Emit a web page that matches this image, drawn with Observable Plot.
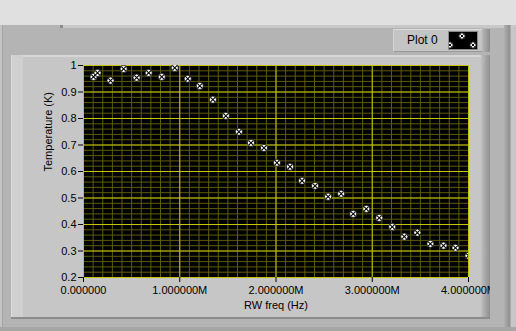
<!DOCTYPE html>
<html>
<head>
<meta charset="utf-8">
<script src="https://cdn.jsdelivr.net/npm/d3@7"></script>
<script src="https://cdn.jsdelivr.net/npm/@observablehq/plot@0.6"></script>
<style>
  html, body { margin:0; padding:0; }
  body { width:516px; height:331px; background:#e0e0e0; position:relative; overflow:hidden;
         font-family:"Liberation Sans", Arial, sans-serif; }
  .abs { position:absolute; box-sizing:border-box; }
  #outer { left:0; top:25px; width:516px; height:306px; background:#b4b4b4; }
  #outerTop { left:63px; top:25px; width:453px; height:3px; background:#c8c8c8; }
  #outerNotch { left:60px; top:25px; width:3px; height:3px; background:#8c8c8c; }
  #outerLeft { left:0; top:25px; width:3px; height:306px; background:#c4c4c4; border-right:1px solid #a4a4a4; }
  #outerRight { left:504px; top:25px; width:12px; height:306px;
      background:linear-gradient(to right,#b0b0b0 0px,#8e8e8e 6px,#c8c8c8 7px,#c4c4c4 12px); }
  #outerBottom { left:0; top:327px; width:516px; height:4px; background:#a6a6a6; }
  #inner { left:11px; top:55px; width:479px; height:264px; background:#c6c6c6;
      border-top:2px solid #d6d6d6; border-bottom:2px solid #8c8c8c; }
  #innerLeft { left:11px; top:55px; width:12px; height:262px; background:#d0d0d0; border-left:1px solid #dcdcdc; }
  #innerRight { left:481px; top:55px; width:9px; height:262px;
      background:linear-gradient(to right,#c0c0c0,#8e8e8e); }
  #legend { left:393px; top:29px; width:97px; height:23px; background:#c4c4c4;
      border-top:1px solid #dadada; border-left:1px solid #d4d4d4; border-bottom:1px solid #9a9a9a; }
  #legendShade { left:482px; top:29px; width:8px; height:23px; background:linear-gradient(to right,#b8b8b8,#8c8c8c); }
  #legendText { left:407px; top:32px; font-size:12px; line-height:16px; color:#000; }
  #swatch { left:448px; top:31px; width:30px; height:19px; background:#000; border:1px solid #8a8a8a; }
  #chart { left:0; top:0; }
  #chart svg { clip-path: inset(0 26px 0 0); display:block; }
</style>
</head>
<body>
<div class="abs" id="outer"></div>
<div class="abs" id="outerTop"></div>
<div class="abs" id="outerNotch"></div>
<div class="abs" id="outerLeft"></div>
<div class="abs" id="outerRight"></div>
<div class="abs" id="outerBottom"></div>
<div class="abs" id="inner"></div>
<div class="abs" id="innerLeft"></div>
<div class="abs" id="innerRight"></div>
<div class="abs" id="legend"></div>
<div class="abs" id="legendShade"></div>
<div class="abs" id="legendText">Plot 0</div>
<div class="abs" id="swatch">
  <svg width="28" height="17" style="display:block">
    <g stroke="#000" stroke-width="1">
      <circle cx="13" cy="4" r="3.2" fill="#fff"/><path d="M11.3,2.3L14.7,5.7M14.7,2.3L11.3,5.7"/>
      <circle cx="1" cy="13" r="3.2" fill="#fff"/><path d="M-0.7,11.3L2.7,14.7M2.7,11.3L-0.7,14.7"/>
      <circle cx="24" cy="13" r="3.2" fill="#fff"/><path d="M22.3,11.3L25.7,14.7M25.7,11.3L22.3,14.7"/>
    </g>
  </svg>
</div>
<div class="abs" id="chart"></div>
<script>
// ---- data ----
const freqHz = [104e3,146e3,281e3,417e3,552e3,677e3,813e3,948e3,1083e3,1208e3,1344e3,1479e3,1615e3,1740e3,1875e3,2010e3,
                2146e3,2271e3,2406e3,2542e3,2677e3,2802e3,2938e3,3073e3,3208e3,3333e3,3469e3,3604e3,3740e3,3865e3,4000e3];
const tempK  = [0.957,0.972,0.943,0.987,0.954,0.972,0.957,0.991,0.950,0.923,0.871,0.810,0.750,0.708,0.689,0.633,
                0.618,0.565,0.546,0.505,0.516,0.440,0.459,0.425,0.391,0.354,0.369,0.327,0.320,0.312,0.282];
const xTicks = [0, 1e6, 2e6, 3e6, 4e6];
const xTickLabels = ["0.000000","1.000000M","2.000000M","3.000000M","4.000000M"];
const yTicks = [0.2,0.3,0.4,0.5,0.6,0.7,0.8,0.9,1];
const yTickLabels = ["0.2","0.3","0.4","0.5","0.6","0.7","0.8","0.9","1"];
const xLabel = "RW freq (Hz)";
const yLabel = "Temperature (K)";

const data = freqHz.map((f, i) => ({f, t: tempK[i]}));
const xMinor = d3.range(0, 4e6 + 1, 1e5);
const yMinor = d3.range(0.2, 1.0001, 0.02).map(v => +v.toFixed(2));

const chart = Plot.plot({
  width: 516, height: 331,
  marginLeft: 83, marginRight: 48, marginTop: 65, marginBottom: 54,
  style: {background: "transparent", fontFamily: "'Liberation Sans', Arial, sans-serif", fontSize: "11px", color: "#000", overflow: "visible"},
  x: {domain: [0, 4e6]},
  y: {domain: [0.2, 1]},
  marks: [
    Plot.frame({fill: "#000", stroke: null}),
    Plot.ruleX(xMinor, {stroke: "#5c5c00", strokeWidth: 1}),
    Plot.ruleY(yMinor, {stroke: "#5c5c00", strokeWidth: 1}),
    Plot.ruleX(xTicks, {stroke: "#c4c400", strokeWidth: 1}),
    Plot.ruleY(yTicks, {stroke: "#c4c400", strokeWidth: 1}),
    Plot.dot(data, {x: "f", y: "t", r: 3.6, fill: "#fff", stroke: "#000", strokeWidth: 0.8, clip: true}),
    Plot.dot(data, {x: "f", y: "t", r: 2.2, symbol: "times", stroke: "#000", strokeWidth: 1.1, clip: true}),
    Plot.axisX(xTicks, {tickSize: 5, tickPadding: 4, stroke: "#000",
      tickFormat: (d) => xTickLabels[xTicks.indexOf(d)], label: null,
      style: {letterSpacing: "-0.45px"}}),
    Plot.axisY(yTicks, {tickSize: 5, tickPadding: 2, stroke: "#000",
      tickFormat: (d) => yTickLabels[yTicks.indexOf(d)], label: null,
      style: {letterSpacing: "-0.3px"}}),
    Plot.text([xLabel], {frameAnchor: "bottom", dy: 31, fill: "#000", fontSize: 11}),
    Plot.text([yLabel], {frameAnchor: "left", dx: -35, rotate: -90, fill: "#000", fontSize: 11})
  ]
});
document.getElementById("chart").appendChild(chart);
</script>
</body>
</html>
